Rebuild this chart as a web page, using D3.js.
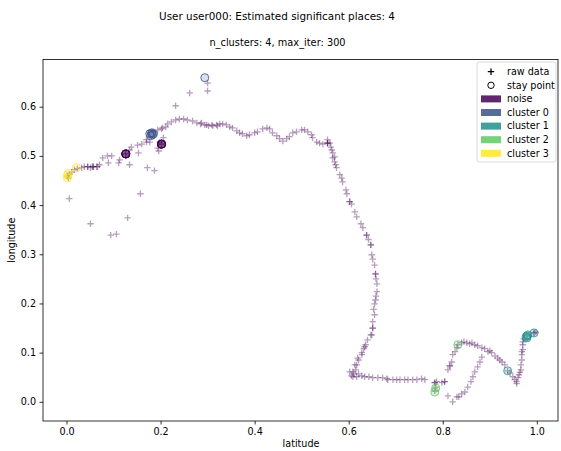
<!DOCTYPE html>
<html>
<head>
<meta charset="utf-8">
<script src="https://cdn.jsdelivr.net/npm/d3@7"></script>
<style>
  body { margin: 0; background: #fff; }
  svg { display: block; font-family: "DejaVu Sans", sans-serif; }
</style>
</head>
<body>
<div id="chart"></div>
<script>
const width = 561, height = 451;

const titleText = "User user000: Estimated significant places: 4";
const subtitleText = "n_clusters: 4, max_iter: 300";
const legendLabels = ["noise", "cluster 0", "cluster 1", "cluster 2", "cluster 3"];
const legendValues = [-1, 0, 1, 2, 3];
const xTicks = [0.0, 0.2, 0.4, 0.6, 0.8, 1.0];
const yTicks = [0.0, 0.1, 0.2, 0.3, 0.4, 0.5, 0.6];

// raw gps fixes [latitude, longitude], all labelled noise
const rawPoints = [
  [0.002,0.459],[0.004,0.455],[0.006,0.463],[0.011,0.467],[0.017,0.472],[0.023,0.474],[0.032,0.476],
  [0.038,0.478],[0.045,0.478],[0.045,0.478],[0.051,0.476],[0.055,0.478],[0.057,0.478],[0.057,0.478],
  [0.064,0.478],[0.066,0.478],[0.070,0.482],[0.077,0.496],[0.087,0.500],[0.096,0.500],[0.089,0.486],
  [0.113,0.492],[0.111,0.486],[0.126,0.504],[0.126,0.504],[0.134,0.512],[0.138,0.518],[0.151,0.522],
  [0.160,0.524],[0.170,0.528],[0.153,0.506],[0.134,0.482],[0.172,0.476],[0.187,0.470],[0.196,0.510],
  [0.202,0.524],[0.202,0.524],
  [0.006,0.413],[0.051,0.362],[0.094,0.339],[0.106,0.341],[0.130,0.374],[0.157,0.423],
  [0.170,0.533],[0.177,0.528],[0.185,0.549],[0.194,0.553],[0.202,0.555],[0.204,0.557],[0.211,0.559],
  [0.215,0.565],[0.223,0.569],[0.232,0.573],[0.240,0.575],[0.249,0.575],[0.257,0.573],[0.268,0.571],
  [0.277,0.567],[0.285,0.565],[0.294,0.563],[0.302,0.561],[0.311,0.561],[0.321,0.561],[0.206,0.537],
  [0.198,0.528],[0.194,0.516],
  [0.232,0.602],[0.262,0.628],[0.300,0.632],[0.300,0.648],
  [0.287,0.567],[0.298,0.563],[0.309,0.563],[0.319,0.563],[0.326,0.565],[0.332,0.565],[0.340,0.563],
  [0.347,0.559],[0.353,0.557],[0.362,0.551],[0.368,0.547],[0.374,0.545],[0.383,0.541],[0.389,0.543],
  [0.400,0.547],[0.406,0.549],[0.417,0.555],[0.426,0.557],[0.432,0.555],[0.438,0.547],[0.447,0.541],
  [0.453,0.535],[0.460,0.530],[0.468,0.535],[0.474,0.539],[0.481,0.547],[0.489,0.549],[0.500,0.553],
  [0.506,0.553],[0.513,0.549],[0.521,0.543],[0.523,0.537],[0.532,0.528],[0.538,0.526],[0.545,0.524],
  [0.555,0.526],[0.555,0.526],[0.555,0.526],[0.555,0.533],[0.560,0.526],[0.562,0.518],[0.564,0.512],
  [0.566,0.506],[0.570,0.498],
  [0.566,0.496],[0.570,0.488],[0.572,0.482],[0.574,0.476],[0.581,0.462],[0.585,0.455],[0.587,0.447],
  [0.594,0.431],[0.596,0.423],[0.602,0.407],[0.602,0.407],[0.606,0.402],[0.613,0.386],[0.617,0.376],
  [0.626,0.362],[0.630,0.354],[0.638,0.339],[0.638,0.339],[0.642,0.330],[0.647,0.319],[0.647,0.319],
  [0.649,0.299],[0.651,0.290],[0.655,0.278],[0.657,0.260],[0.657,0.260],[0.658,0.250],[0.660,0.240],
  [0.660,0.224],[0.658,0.215],[0.657,0.207],[0.655,0.199],[0.653,0.188],[0.655,0.177],[0.651,0.163],
  [0.651,0.150],[0.651,0.150],[0.647,0.136],[0.640,0.126],[0.636,0.116],[0.632,0.108],[0.628,0.096],
  [0.621,0.085],[0.617,0.075],[0.615,0.065],[0.611,0.057],[0.609,0.061],[0.606,0.053],[0.602,0.061],
  [0.609,0.051],[0.617,0.051],
  [0.613,0.075],[0.619,0.089],[0.628,0.100],[0.634,0.112],[0.649,0.136],
  [0.621,0.057],[0.628,0.053],[0.634,0.051],[0.643,0.051],[0.651,0.049],[0.662,0.049],[0.672,0.049],
  [0.681,0.047],[0.683,0.045],[0.694,0.045],[0.702,0.045],[0.709,0.045],[0.719,0.045],[0.726,0.045],
  [0.736,0.045],[0.745,0.045],[0.755,0.047],[0.762,0.045],
  [0.783,0.039],[0.783,0.039],[0.798,0.039],[0.804,0.041],[0.804,0.041],[0.785,0.030],[0.783,0.022],
  [0.811,0.012],[0.834,0.010],
  [0.787,0.041],[0.811,0.065],[0.815,0.073],[0.815,0.073],[0.819,0.081],[0.821,0.096],[0.826,0.102],
  [0.830,0.110],[0.832,0.116],[0.840,0.120],[0.845,0.122],[0.851,0.120],[0.857,0.118],[0.862,0.120],
  [0.868,0.116],[0.874,0.114],[0.883,0.110],[0.889,0.108],[0.896,0.102],[0.900,0.104],[0.904,0.100],
  [0.911,0.093],[0.917,0.089],[0.921,0.085],[0.926,0.081],[0.932,0.075],[0.938,0.063],[0.943,0.059],
  [0.949,0.051],[0.953,0.045],[0.957,0.041],[0.957,0.037],[0.960,0.049],[0.962,0.055],[0.964,0.060],
  [0.966,0.065],[0.966,0.075],[0.968,0.085],[0.968,0.096],[0.968,0.102],[0.970,0.106],[0.970,0.116],
  [0.970,0.122],[0.972,0.128],[0.979,0.134],[0.994,0.140],[0.994,0.140],[0.998,0.142],
  [0.879,0.081],[0.883,0.091],[0.874,0.071],[0.868,0.061],[0.864,0.051],[0.860,0.041],[0.853,0.030],
  [0.847,0.020],[0.840,0.016],[0.830,0.010],[0.821,0.000]
];

// stay points [latitude, longitude, cluster label]
const stayPoints = [
  [0.002,0.461,3],[0.002,0.455,3],[0.004,0.465,3],[0.021,0.476,3],
  [0.126,0.504,-1],[0.126,0.504,-1],[0.126,0.504,-1],[0.126,0.504,-1],[0.126,0.504,-1],
  [0.202,0.524,-1],[0.202,0.524,-1],[0.202,0.524,-1],[0.202,0.524,-1],[0.202,0.524,-1],
  [0.177,0.545,0],[0.181,0.547,0],[0.185,0.545,0],[0.179,0.541,0],[0.183,0.543,0],[0.181,0.545,0],
  [0.294,0.659,0],
  [0.938,0.063,1],[0.979,0.134,1],[0.977,0.132,1],[0.981,0.136,1],[0.979,0.130,1],[0.994,0.140,1],
  [0.783,0.020,2],[0.785,0.028,2],[0.832,0.116,2]
];

const margin = { left: 43, right: 3, top: 59.5, bottom: 30 };

const x = d3.scaleLinear().domain([-0.05, 1.045]).range([margin.left, width - margin.right]);
const y = d3.scaleLinear().domain([-0.039, 0.696]).range([height - margin.bottom, margin.top]);
const color = d3.scaleSequential(d3.interpolateViridis).domain([-1, 3]);

const svg = d3.select("#chart").append("svg")
  .attr("width", width)
  .attr("height", height);

svg.append("text")
  .attr("x", 277).attr("y", 20)
  .attr("text-anchor", "middle")
  .attr("font-size", 10.4)
  .text(titleText);

svg.append("text")
  .attr("x", 277.5).attr("y", 46)
  .attr("text-anchor", "middle")
  .attr("font-size", 9.8)
  .text(subtitleText);

// raw data as '+' markers
const crossPath = "M-3.2,0H3.2M0,-3.2V3.2";

svg.append("g")
    .attr("stroke", color(-1))
    .attr("stroke-opacity", 0.38)
    .attr("stroke-width", 1.3)
    .attr("fill", "none")
  .selectAll("path")
  .data(rawPoints)
  .join("path")
    .attr("transform", d => `translate(${x(d[0])},${y(d[1])})`)
    .attr("d", crossPath);

// stay points as circles
svg.append("g")
  .selectAll("circle")
  .data(stayPoints)
  .join("circle")
    .attr("cx", d => x(d[0]))
    .attr("cy", d => y(d[1]))
    .attr("r", 4)
    .attr("fill", d => color(d[2]))
    .attr("fill-opacity", 0.18)
    .attr("stroke", d => color(d[2]))
    .attr("stroke-opacity", 0.8)
    .attr("stroke-width", 1);

// axes
const xAxis = svg.append("g")
  .attr("transform", `translate(0,${height - margin.bottom})`)
  .call(d3.axisBottom(x).tickValues(xTicks).tickFormat(d3.format(".1f")).tickSizeOuter(0).tickSize(3.5).tickPadding(3.5));
const yAxis = svg.append("g")
  .attr("transform", `translate(${margin.left},0)`)
  .call(d3.axisLeft(y).tickValues(yTicks).tickFormat(d3.format(".1f")).tickSizeOuter(0).tickSize(3.5).tickPadding(3.5));

[xAxis, yAxis].forEach(g => {
  g.attr("font-family", "DejaVu Sans").attr("font-size", 9.6);
  g.selectAll("text").attr("fill", "#000");
  g.selectAll("line").attr("stroke", "#000").attr("stroke-width", 0.8);
  g.select(".domain").remove();
});

// frame
svg.append("rect")
  .attr("x", margin.left).attr("y", margin.top)
  .attr("width", width - margin.right - margin.left)
  .attr("height", height - margin.bottom - margin.top)
  .attr("fill", "none")
  .attr("stroke", "#000")
  .attr("stroke-width", 0.8);

svg.append("text")
  .attr("x", 301).attr("y", 447)
  .attr("text-anchor", "middle")
  .attr("font-size", 9.6)
  .text("latitude");

svg.append("text")
  .attr("transform", `translate(15,${(margin.top + height - margin.bottom) / 2}) rotate(-90)`)
  .attr("text-anchor", "middle")
  .attr("font-size", 9.6)
  .text("longitude");

// legend
const legend = svg.append("g").attr("transform", "translate(477,62)");
legend.append("rect")
  .attr("width", 79).attr("height", 100)
  .attr("rx", 2)
  .attr("fill", "#fff").attr("fill-opacity", 0.8)
  .attr("stroke", "#d0d0d0").attr("stroke-width", 0.8);

const rowY = i => 9.7 + i * 13.6;

legend.append("path")
  .attr("transform", `translate(14,${rowY(0)})`)
  .attr("d", crossPath)
  .attr("stroke", "#000").attr("stroke-width", 1.3);
legend.append("circle")
  .attr("cx", 14).attr("cy", rowY(1)).attr("r", 3.2)
  .attr("fill", "none").attr("stroke", "#000").attr("stroke-width", 1);

legend.selectAll("rect.swatch")
  .data(legendValues)
  .join("rect")
    .attr("class", "swatch")
    .attr("x", 4).attr("y", (d, i) => rowY(i + 2) - 3.5)
    .attr("width", 20).attr("height", 7)
    .attr("fill", d => color(d))
    .attr("fill-opacity", 0.85);

const legendText = ["raw data", "stay point"].concat(legendLabels);
legend.selectAll("text")
  .data(legendText)
  .join("text")
    .attr("x", 30)
    .attr("y", (d, i) => rowY(i))
    .attr("dy", "0.35em")
    .attr("font-size", 9.6)
    .text(d => d);
</script>
</body>
</html>
